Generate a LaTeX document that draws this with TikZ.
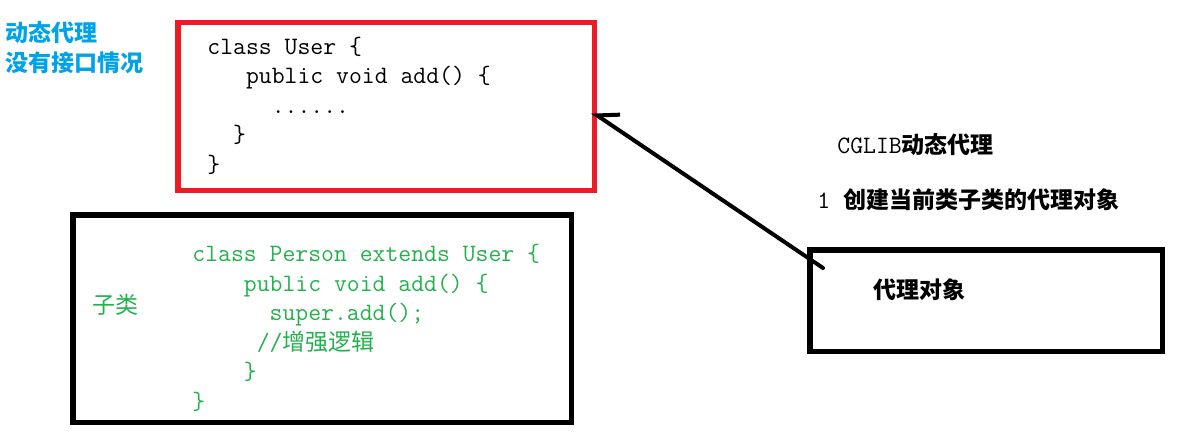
\documentclass[tikz,border=0pt]{standalone}
\usepackage{fontspec}
\newfontfamily\cjk{Noto Sans CJK SC}
\usetikzlibrary{positioning}
\usetikzlibrary{arrows.meta}

\definecolor{paintred}{HTML}{ED1C24}
\definecolor{paintgreen}{HTML}{22B14C}
\definecolor{paintblue}{HTML}{00A2E8}

\begin{document}
\begin{tikzpicture}[x=0.5pt,y=-0.5pt,
	boxnode/.style={rectangle, draw=black, line width=2.75pt, inner sep=0pt},
	codenode/.style={anchor=base west, inner sep=0pt, align=left, font=\ttfamily\fontsize{12.5}{14.75}\selectfont},
	cnnode/.style={anchor=west, inner sep=0pt, font=\cjk\fontsize{11.5}{14}\selectfont}]
	\useasboundingbox (0,0) rectangle (1186,433);
	\node[boxnode, draw=paintred, minimum width=208.25pt, minimum height=83.75pt] (user) at (386,106.5) {};
	\node[boxnode, minimum width=249.25pt, minimum height=103.75pt] (subclass) at (322,318.5) {};
	\node[boxnode, minimum width=176.25pt, minimum height=50.75pt] (proxy) at (986,300.5) {};
	\node[cnnode, text=paintblue, font=\cjk\bfseries\fontsize{11.5}{14}\selectfont] (dyntitle) at (5,33) {动态代理};
	\node[cnnode, text=paintblue, font=\cjk\bfseries\fontsize{11.5}{14}\selectfont] (nointf) at (5,63) {没有接口情况};
	% base of a multi-line node is the baseline of its last line
	\node[codenode] (usercode) at (207,172) {class User \{\\~~~public void add() \{\\~~~~~......\\~~\}\\\}};
	\node[codenode, text=paintgreen] (personcode) at (192,409) {class Person extends User \{\\~~~~public void add() \{\\~~~~~~super.add();\\~~~~~//{\cjk\fontsize{11.5}{14.75}\selectfont 增强逻辑}\\~~~~\}\\\}};
	\node[cnnode, text=paintgreen] (sublabel) at (92,305) {子类};
	\node[cnnode, font=\cjk\bfseries\fontsize{11.5}{14}\selectfont] (cglib) at (837,145) {{\ttfamily\mdseries\fontsize{12.5}{14}\selectfont CGLIB}动态代理};
	\node[cnnode, font=\cjk\bfseries\fontsize{11.5}{14}\selectfont] (step) at (817,200) {{\ttfamily\mdseries\fontsize{12.5}{14}\selectfont 1~}创建当前类子类的代理对象};
	\node[cnnode, font=\cjk\bfseries\fontsize{11.5}{14}\selectfont] (proxylabel) at (873,290) {代理对象};
	\draw[line width=2pt, line cap=round, -{Straight Barb[right, length=9.3pt, width=13.5pt]}] ([shift={(16,21)}]proxy.north west) -- ([shift={(-5,5.5)}]user.east);
\end{tikzpicture}
\end{document}
